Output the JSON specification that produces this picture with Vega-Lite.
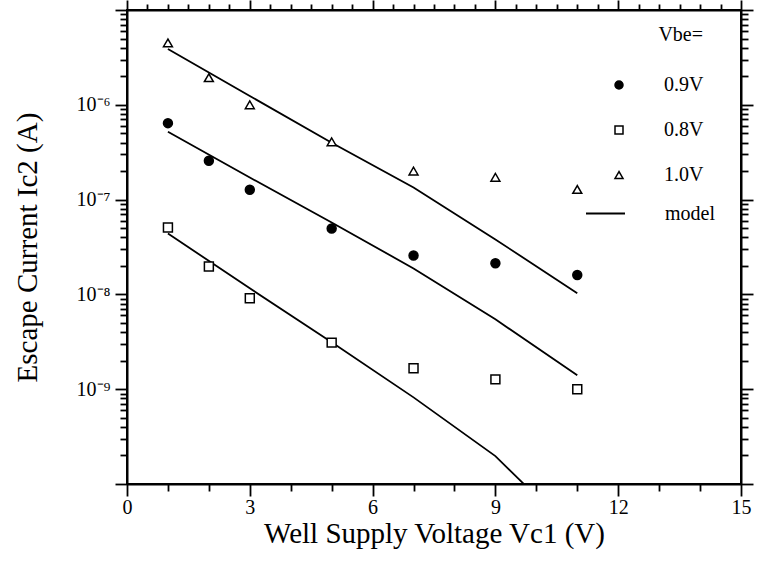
{
  "$schema": "https://vega.github.io/schema/vega-lite/v6.json",
  "width": 614,
  "height": 474,
  "autosize": {"type": "none"},
  "padding": {"left": 127, "top": 10, "right": 19, "bottom": 86},
  "background": "white",
  "config": {
    "font": "Liberation Serif",
    "view": {"stroke": "black", "strokeWidth": 2},
    "axis": {
      "domainColor": "black",
      "domainWidth": 2,
      "tickColor": "black",
      "tickWidth": 1.8,
      "labelColor": "black",
      "titleColor": "black",
      "labelFont": "Liberation Serif",
      "titleFont": "Liberation Serif",
      "labelFontSize": 20,
      "titleFontSize": 29,
      "titleFontWeight": "normal",
      "grid": false,
      "labelFlush": false,
      "labelOverlap": false,
      "labelBound": false
    },
    "legend": {
      "labelFont": "Liberation Serif",
      "titleFont": "Liberation Serif",
      "labelFontSize": 20,
      "titleFontSize": 20,
      "titleFontWeight": "normal",
      "labelColor": "black",
      "titleColor": "black"
    }
  },
  "datasets": {
    "points": [
      {"series": "1.0V", "V": 1, "I": 4.5e-6},
      {"series": "1.0V", "V": 2, "I": 1.93e-6},
      {"series": "1.0V", "V": 3, "I": 1.0e-6},
      {"series": "1.0V", "V": 5, "I": 4.07e-7},
      {"series": "1.0V", "V": 7, "I": 2.0e-7},
      {"series": "1.0V", "V": 9, "I": 1.72e-7},
      {"series": "1.0V", "V": 11, "I": 1.28e-7},
      {"series": "0.9V", "V": 1, "I": 6.4e-7},
      {"series": "0.9V", "V": 2, "I": 2.57e-7},
      {"series": "0.9V", "V": 3, "I": 1.27e-7},
      {"series": "0.9V", "V": 5, "I": 4.95e-8},
      {"series": "0.9V", "V": 7, "I": 2.57e-8},
      {"series": "0.9V", "V": 9, "I": 2.13e-8},
      {"series": "0.9V", "V": 11, "I": 1.6e-8},
      {"series": "0.8V", "V": 1, "I": 5.07e-8},
      {"series": "0.8V", "V": 2, "I": 1.97e-8},
      {"series": "0.8V", "V": 3, "I": 9.1e-9},
      {"series": "0.8V", "V": 5, "I": 3.1e-9},
      {"series": "0.8V", "V": 7, "I": 1.66e-9},
      {"series": "0.8V", "V": 9, "I": 1.27e-9},
      {"series": "0.8V", "V": 11, "I": 1.0e-9}
    ],
    "model": [
      {"kind": "model", "series": "1.0V", "V": 1, "I": 3.88e-6},
      {"kind": "model", "series": "1.0V", "V": 3, "I": 1.24e-6},
      {"kind": "model", "series": "1.0V", "V": 5, "I": 3.98e-7},
      {"kind": "model", "series": "1.0V", "V": 7, "I": 1.34e-7},
      {"kind": "model", "series": "1.0V", "V": 9, "I": 3.8e-8},
      {"kind": "model", "series": "1.0V", "V": 11, "I": 1.03e-8},
      {"kind": "model", "series": "0.9V", "V": 1, "I": 5.2e-7},
      {"kind": "model", "series": "0.9V", "V": 3, "I": 1.71e-7},
      {"kind": "model", "series": "0.9V", "V": 5, "I": 5.73e-8},
      {"kind": "model", "series": "0.9V", "V": 7, "I": 1.88e-8},
      {"kind": "model", "series": "0.9V", "V": 9, "I": 5.46e-9},
      {"kind": "model", "series": "0.9V", "V": 11, "I": 1.4e-9},
      {"kind": "model", "series": "0.8V", "V": 1, "I": 4.39e-8},
      {"kind": "model", "series": "0.8V", "V": 3, "I": 1.16e-8},
      {"kind": "model", "series": "0.8V", "V": 5, "I": 3.13e-9},
      {"kind": "model", "series": "0.8V", "V": 7, "I": 8.2e-10},
      {"kind": "model", "series": "0.8V", "V": 9, "I": 1.97e-10},
      {"kind": "model", "series": "0.8V", "V": 11, "I": 2.8e-11}
    ]
  },
  "layer": [
    {
      "data": {"name": "model"},
      "mark": {"type": "line", "clip": true, "strokeWidth": 1.8, "interpolate": "linear"},
      "encoding": {
        "x": {
          "field": "V", "type": "quantitative",
          "scale": {"domain": [0, 15], "nice": false, "zero": false},
          "axis": {
            "orient": "top", "labels": false, "title": null,
            "values": [0,0.5,1,1.5,2,2.5,3,3.5,4,4.5,5,5.5,6,6.5,7,7.5,8,8.5,9,9.5,10,10.5,11,11.5,12,12.5,13,13.5,14,14.5,15],
            "tickSize": {"condition": {"test": "datum.value % 3 == 0", "value": 10}, "value": 6}
          }
        },
        "y": {
          "field": "I", "type": "quantitative",
          "scale": {"type": "log", "domain": [1e-10, 1e-5], "nice": false},
          "axis": {
            "orient": "right", "labels": false, "title": null,
            "values": [1e-10,2e-10,3e-10,4e-10,5e-10,6e-10,7e-10,8e-10,9e-10,1e-9,2e-9,3e-9,4e-9,5e-9,6e-9,7e-9,8e-9,9e-9,1e-8,2e-8,3e-8,4e-8,5e-8,6e-8,7e-8,8e-8,9e-8,1e-7,2e-7,3e-7,4e-7,5e-7,6e-7,7e-7,8e-7,9e-7,1e-6,2e-6,3e-6,4e-6,5e-6,6e-6,7e-6,8e-6,9e-6,1e-5],
            "tickSize": {"condition": {"test": "abs(log(datum.value)/LN10 - round(log(datum.value)/LN10)) < 0.001", "value": 12}, "value": 7}
          }
        },
        "detail": {"field": "series"},
        "color": {
          "field": "kind", "type": "nominal",
          "scale": {"domain": ["model"], "range": ["black"]},
          "legend": {
            "title": null,
            "orient": "none",
            "legendX": 458,
            "legendY": 183,
            "symbolType": "stroke",
            "symbolSize": 1521,
            "symbolStrokeWidth": 1.8,
            "labelOffset": 39
          }
        }
      }
    },
    {
      "data": {"name": "points"},
      "mark": {"type": "point", "filled": true, "stroke": "black", "strokeWidth": 1.5, "opacity": 1, "size": 80},
      "encoding": {
        "x": {
          "field": "V", "type": "quantitative",
          "title": "Well Supply Voltage Vc1 (V)",
          "axis": {
            "orient": "bottom",
            "format": "d",
            "values": [0,0.5,1,1.5,2,2.5,3,3.5,4,4.5,5,5.5,6,6.5,7,7.5,8,8.5,9,9.5,10,10.5,11,11.5,12,12.5,13,13.5,14,14.5,15],
            "labelExpr": "datum.value % 3 == 0 ? datum.label : ''",
            "tickSize": {"condition": {"test": "datum.value % 3 == 0", "value": 12}, "value": 7},
            "labelPadding": 1,
            "titlePadding": 2
          }
        },
        "y": {
          "field": "I", "type": "quantitative",
          "title": "Escape Current Ic2 (A)",
          "axis": {
            "orient": "left",
            "values": [1e-10,2e-10,3e-10,4e-10,5e-10,6e-10,7e-10,8e-10,9e-10,1e-9,2e-9,3e-9,4e-9,5e-9,6e-9,7e-9,8e-9,9e-9,1e-8,2e-8,3e-8,4e-8,5e-8,6e-8,7e-8,8e-8,9e-8,1e-7,2e-7,3e-7,4e-7,5e-7,6e-7,7e-7,8e-7,9e-7,1e-6,2e-6,3e-6,4e-6,5e-6,6e-6,7e-6,8e-6,9e-6,1e-5],
            "labelExpr": "abs(log(datum.value)/LN10 - round(log(datum.value)/LN10)) < 0.001 ? (round(log(datum.value)/LN10) == -6 ? '10⁻⁶' : round(log(datum.value)/LN10) == -7 ? '10⁻⁷' : round(log(datum.value)/LN10) == -8 ? '10⁻⁸' : round(log(datum.value)/LN10) == -9 ? '10⁻⁹' : '') : ''",
            "tickSize": {"condition": {"test": "abs(log(datum.value)/LN10 - round(log(datum.value)/LN10)) < 0.001", "value": 12}, "value": 7},
            "labelPadding": 5,
            "titlePadding": 34
          }
        },
        "shape": {
          "field": "series", "type": "nominal",
          "scale": {"domain": ["0.9V", "0.8V", "1.0V"], "range": ["circle", "square", "triangle-up"]},
          "legend": {
            "title": "Vbe=",
            "orient": "none",
            "legendX": 482,
            "legendY": 15,
            "titleAnchor": "end",
            "titlePadding": 30,
            "rowPadding": 25,
            "labelOffset": 35,
            "symbolSize": 64,
            "encode": {"symbols": {"update": {"stroke": {"value": "black"}, "strokeWidth": {"value": 1.5}}}}
          }
        },
        "fill": {
          "field": "series", "type": "nominal",
          "scale": {"domain": ["0.9V", "0.8V", "1.0V"], "range": ["black", "white", "white"]},
          "legend": {
            "title": "Vbe=",
            "orient": "none",
            "legendX": 482,
            "legendY": 15,
            "titleAnchor": "end",
            "titlePadding": 30,
            "rowPadding": 25,
            "labelOffset": 35,
            "symbolSize": 64,
            "encode": {"symbols": {"update": {"stroke": {"value": "black"}, "strokeWidth": {"value": 1.5}}}}
          }
        }
      }
    }
  ],
  "resolve": {"axis": {"x": "independent", "y": "independent"}}
}
